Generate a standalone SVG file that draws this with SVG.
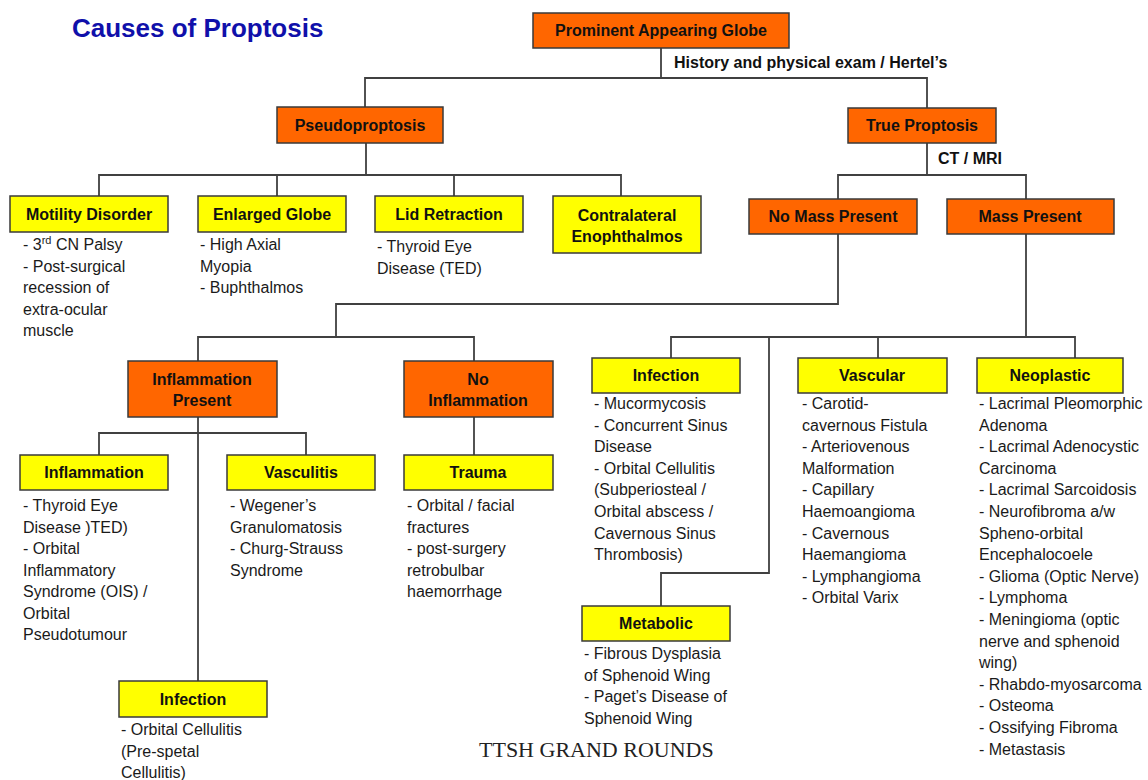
<svg xmlns="http://www.w3.org/2000/svg" width="1148" height="780" viewBox="0 0 1148 780">
<style>
.o{fill:#FF6600;stroke:#3a3a3a;stroke-width:1.5}
.y{fill:#FFFF00;stroke:#3a3a3a;stroke-width:1.5}
.lb{font-family:"Liberation Sans",Arial,sans-serif;font-weight:bold;font-size:16px;fill:#111;text-anchor:middle}
.it{font-family:"Liberation Sans",Arial,sans-serif;font-size:16px;fill:#1a1a1a}
.cl{fill:none;stroke:#404040;stroke-width:1.8}
.note{font-family:"Liberation Sans",Arial,sans-serif;font-weight:bold;font-size:16px;fill:#111}
</style>
<rect width="1148" height="780" fill="#fff"/>
<text x="72" y="37" font-family="Liberation Sans,Arial,sans-serif" font-weight="bold" font-size="26" fill="#1010AA">Causes of Proptosis</text>
<g id="connectors">
<path class="cl" d="M661,48 V78 M365,107 V78 H927 V108"/>
<path class="cl" d="M366,143 V175 M99,196 V175 H621 V196 M277,175 V196 M454,175 V196"/>
<path class="cl" d="M927,143 V175 M838,199 V175 H1026 V199"/>
<path class="cl" d="M838,234 V304 H336 V337 M198,361 V337 H474 V361"/>
<path class="cl" d="M198,417 V681 M99,455 V433 H306 V455"/>
<path class="cl" d="M474,417 V455"/>
<path class="cl" d="M1026,234 V337 M671,358 V337 H1075 V358 M878,337 V358 M769,337 V573 H661 V606"/>
<text class="note" x="674" y="68">History and physical exam / Hertel’s</text>
<text class="note" x="938" y="164">CT / MRI</text>
</g>
<g id="prominent"><rect class="o" x="533" y="13" width="256" height="35"/><text class="lb" x="661" y="36">Prominent Appearing Globe</text></g>
<g id="pseudo"><rect class="o" x="277" y="107" width="166" height="36"/><text class="lb" x="360" y="131">Pseudoproptosis</text></g>
<g id="true"><rect class="o" x="848" y="108" width="148" height="35"/><text class="lb" x="922" y="131">True Proptosis</text></g>
<g id="motility"><rect class="y" x="10" y="196" width="158" height="36"/><text class="lb" x="89" y="220">Motility Disorder</text>
<text class="it" x="23" y="250"><tspan>- 3<tspan font-size="11" dy="-6">rd</tspan><tspan dy="6"> CN Palsy</tspan></tspan><tspan x="23" dy="21.5">- Post-surgical</tspan><tspan x="23" dy="21.5">recession of</tspan><tspan x="23" dy="21.5">extra-ocular</tspan><tspan x="23" dy="21.5">muscle</tspan></text></g>
<g id="enlarged"><rect class="y" x="198" y="196" width="148" height="36"/><text class="lb" x="272" y="220">Enlarged Globe</text>
<text class="it" x="200" y="250"><tspan>- High Axial</tspan><tspan x="200" dy="21.5">Myopia</tspan><tspan x="200" dy="21.5">- Buphthalmos</tspan></text></g>
<g id="lid"><rect class="y" x="375" y="196" width="148" height="36"/><text class="lb" x="449" y="220">Lid Retraction</text>
<text class="it" x="377" y="252"><tspan>- Thyroid Eye</tspan><tspan x="377" dy="21.5">Disease (TED)</tspan></text></g>
<g id="contra"><rect class="y" x="553" y="196" width="148" height="57"/><text class="lb" x="627" y="221">Contralateral</text><text class="lb" x="627" y="242">Enophthalmos</text></g>
<g id="nomass"><rect class="o" x="749" y="199" width="168" height="35"/><text class="lb" x="833" y="222">No Mass Present</text></g>
<g id="mass"><rect class="o" x="947" y="199" width="167" height="35"/><text class="lb" x="1030" y="222">Mass Present</text></g>
<g id="inflpresent"><rect class="o" x="128" y="361" width="149" height="56"/><text class="lb" x="202" y="385">Inflammation</text><text class="lb" x="202" y="406">Present</text></g>
<g id="noinfl"><rect class="o" x="404" y="361" width="149" height="56"/><text class="lb" x="478" y="385">No</text><text class="lb" x="478" y="406">Inflammation</text></g>
<g id="inflammation"><rect class="y" x="20" y="455" width="148" height="35"/><text class="lb" x="94" y="478">Inflammation</text>
<text class="it" x="23" y="511"><tspan>- Thyroid Eye</tspan><tspan x="23" dy="21.5">Disease )TED)</tspan><tspan x="23" dy="21.5">- Orbital</tspan><tspan x="23" dy="21.5">Inflammatory</tspan><tspan x="23" dy="21.5">Syndrome (OIS) /</tspan><tspan x="23" dy="21.5">Orbital</tspan><tspan x="23" dy="21.5">Pseudotumour</tspan></text></g>
<g id="vasculitis"><rect class="y" x="227" y="455" width="148" height="35"/><text class="lb" x="301" y="478">Vasculitis</text>
<text class="it" x="230" y="511"><tspan>- Wegener’s</tspan><tspan x="230" dy="21.5">Granulomatosis</tspan><tspan x="230" dy="21.5">- Churg-Strauss</tspan><tspan x="230" dy="21.5">Syndrome</tspan></text></g>
<g id="trauma"><rect class="y" x="404" y="455" width="149" height="35"/><text class="lb" x="478" y="478">Trauma</text>
<text class="it" x="407" y="511"><tspan>- Orbital / facial</tspan><tspan x="407" dy="21.5">fractures</tspan><tspan x="407" dy="21.5">- post-surgery</tspan><tspan x="407" dy="21.5">retrobulbar</tspan><tspan x="407" dy="21.5">haemorrhage</tspan></text></g>
<g id="infection1"><rect class="y" x="119" y="681" width="148" height="36"/><text class="lb" x="193" y="705">Infection</text>
<text class="it" x="121" y="735"><tspan>- Orbital Cellulitis</tspan><tspan x="121" dy="21.5">(Pre-spetal</tspan><tspan x="121" dy="21.5">Cellulitis)</tspan></text></g>
<g id="infection2"><rect class="y" x="592" y="358" width="148" height="35"/><text class="lb" x="666" y="381">Infection</text>
<text class="it" x="594" y="409"><tspan>- Mucormycosis</tspan><tspan x="594" dy="21.6">- Concurrent Sinus</tspan><tspan x="594" dy="21.6">Disease</tspan><tspan x="594" dy="21.6">- Orbital Cellulitis</tspan><tspan x="594" dy="21.6">(Subperiosteal /</tspan><tspan x="594" dy="21.6">Orbital abscess /</tspan><tspan x="594" dy="21.6">Cavernous Sinus</tspan><tspan x="594" dy="21.6">Thrombosis)</tspan></text></g>
<g id="vascular"><rect class="y" x="798" y="358" width="149" height="35"/><text class="lb" x="872" y="381">Vascular</text>
<text class="it" x="802" y="409"><tspan>- Carotid-</tspan><tspan x="802" dy="21.6">cavernous Fistula</tspan><tspan x="802" dy="21.6">- Arteriovenous</tspan><tspan x="802" dy="21.6">Malformation</tspan><tspan x="802" dy="21.6">- Capillary</tspan><tspan x="802" dy="21.6">Haemoangioma</tspan><tspan x="802" dy="21.6">- Cavernous</tspan><tspan x="802" dy="21.6">Haemangioma</tspan><tspan x="802" dy="21.6">- Lymphangioma</tspan><tspan x="802" dy="21.6">- Orbital Varix</tspan></text></g>
<g id="neoplastic"><rect class="y" x="977" y="358" width="146" height="35"/><text class="lb" x="1050" y="381">Neoplastic</text>
<text class="it" x="979" y="409"><tspan>- Lacrimal Pleomorphic</tspan><tspan x="979" dy="21.6">Adenoma</tspan><tspan x="979" dy="21.6">- Lacrimal Adenocystic</tspan><tspan x="979" dy="21.6">Carcinoma</tspan><tspan x="979" dy="21.6">- Lacrimal Sarcoidosis</tspan><tspan x="979" dy="21.6">- Neurofibroma a/w</tspan><tspan x="979" dy="21.6">Spheno-orbital</tspan><tspan x="979" dy="21.6">Encephalocoele</tspan><tspan x="979" dy="21.6">- Glioma (Optic Nerve)</tspan><tspan x="979" dy="21.6">- Lymphoma</tspan><tspan x="979" dy="21.6">- Meningioma (optic</tspan><tspan x="979" dy="21.6">nerve and sphenoid</tspan><tspan x="979" dy="21.6">wing)</tspan><tspan x="979" dy="21.6">- Rhabdo-myosarcoma</tspan><tspan x="979" dy="21.6">- Osteoma</tspan><tspan x="979" dy="21.6">- Ossifying Fibroma</tspan><tspan x="979" dy="21.6">- Metastasis</tspan></text></g>
<g id="metabolic"><rect class="y" x="582" y="606" width="148" height="35"/><text class="lb" x="656" y="629">Metabolic</text>
<text class="it" x="584" y="659"><tspan>- Fibrous Dysplasia</tspan><tspan x="584" dy="21.6">of Sphenoid Wing</tspan><tspan x="584" dy="21.6">- Paget’s Disease of</tspan><tspan x="584" dy="21.6">Sphenoid Wing</tspan></text></g>
<text x="479" y="757" font-family="Liberation Serif,Times New Roman,serif" font-size="22" fill="#222">TTSH GRAND ROUNDS</text>
</svg>
